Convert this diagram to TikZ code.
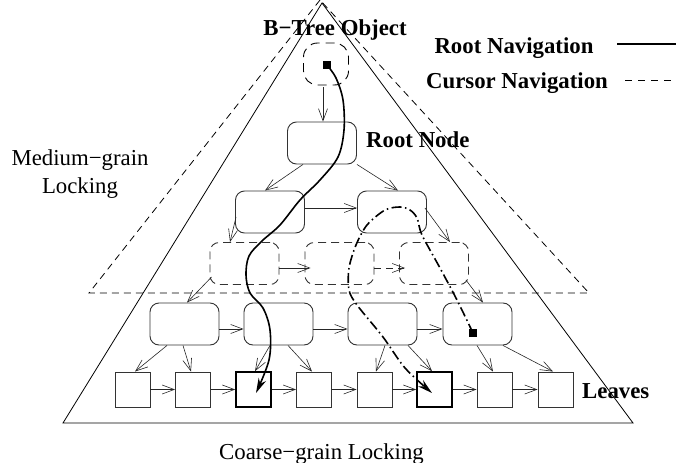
\documentclass[tikz,border=0pt]{standalone}
\usepackage{fontspec}
\setmainfont{Liberation Serif}
\usetikzlibrary{arrows.meta,calc}
\begin{document}
\begin{tikzpicture}[x=1pt,y=-1pt,
  font=\fontsize{22.8}{26}\selectfont,
  tri/.style={line width=0.8pt,black},
  dtri/.style={line width=0.8pt,black,dash pattern=on 7pt off 5pt},
  box/.style={draw=black!80,line width=0.9pt,rounded corners=9pt,minimum width=69pt,minimum height=42pt,inner sep=0pt},
  dbox/.style={box,dash pattern=on 8pt off 5pt},
  objbox/.style={draw=black,line width=0.9pt,rounded corners=14pt,minimum width=45pt,minimum height=42pt,inner sep=0pt,dash pattern=on 9pt off 6pt},
  leaf/.style={draw=black!80,line width=0.9pt,minimum size=35pt,inner sep=0pt},
  bleaf/.style={leaf,draw=black,line width=1.6pt},
  sqr/.style={fill=black,minimum size=8pt,inner sep=0pt},
  arr/.style={draw=black!85,line width=0.6pt,-{Straight Barb[length=12pt,width=9pt]}},
  nav/.style={line width=1.6pt,black,-{Stealth[length=15pt,width=8pt]}},
  cur/.style={nav,dash pattern=on 10pt off 3.5pt on 1.5pt off 3.5pt},
  lbl/.style={inner sep=0pt,font=\fontsize{22.8}{26}\selectfont\bfseries},
  txt/.style={inner sep=0pt}
]
\path[use as bounding box] (0,0) rectangle (699,463);

% triangles
\coordinate (tA) at (322,3);
\coordinate (tL) at (63,423);
\coordinate (tR) at (633,423);
\draw[tri] (tA) -- (tL) -- (tR) -- cycle;
\coordinate (dA) at (320,0);
\coordinate (dL) at (89,293);
\coordinate (dR) at (589,293);
\draw[dtri] (dA) -- (dL) -- (dR) -- cycle;

% nodes
\node[objbox] (obj) at (326,64) {};
\node[sqr] (sq1) at (327,65) {};
\node[box] (root) at (322,143) {};
\node[box] (l2a) at (270,212) {};
\node[box] (l2b) at (392,212) {};
\node[dbox] (d1) at (244.5,263.5) {};
\node[dbox] (d2) at (339.5,263.5) {};
\node[dbox] (d3) at (434,263.5) {};
\node[box] (m1) at (184.5,324) {};
\node[box] (m2) at (278.5,324) {};
\node[box] (m3) at (382.5,324) {};
\node[box] (m4) at (477.5,324) {};
\node[sqr] (sq2) at (473,333) {};
\node[leaf] (c1) at (132.5,389.5) {};
\node[leaf] (c2) at (193,389.5) {};
\node[bleaf] (c3) at (253.5,389.5) {};
\node[leaf] (c4) at (314,389.5) {};
\node[leaf] (c5) at (374.5,389.5) {};
\node[bleaf] (c6) at (434.5,389.5) {};
\node[leaf] (c7) at (494.5,389.5) {};
\node[leaf] (c8) at (555.5,389.5) {};

% labels
\node[lbl,anchor=base] (tobj) at (335,35) {B−Tree Object};
\node[lbl,anchor=base west] (troot) at (366,147) {Root Node};
\node[lbl,anchor=base west] (tleaves) at (582,398) {Leaves};
\node[lbl,anchor=base] (trn) at (514,53) {Root Navigation};
\node[lbl,anchor=base] (tcn) at (517,88) {Cursor Navigation};
\node[txt,anchor=base] (tmg1) at (80,165) {Medium−grain};
\node[txt,anchor=base] (tmg2) at (80,193) {Locking};
\node[txt,anchor=base] (tcg) at (321.5,459) {Coarse−grain Locking};

% legend lines
\coordinate (lg1a) at (617,44);
\coordinate (lg1b) at (676,44);
\coordinate (lg2a) at (625,80);
\coordinate (lg2b) at (673,80);
\draw[line width=1.2pt] (lg1a) -- (lg1b);
\draw[line width=0.8pt,dash pattern=on 7pt off 6pt] (lg2a) -- (lg2b);

% tree arrows
\draw[arr] ($(obj.south)+(-3,2)$) -- ($(root.north)+(1,0)$);
\draw[arr] ($(root.south)+(-19,0)$) -- ($(l2a.north)+(-5,0)$);
\draw[arr] (root.south east) -- ($(l2b.north)+(6,0)$);
\draw[arr] ($(l2a.east)+(0,-4)$) -- ($(l2b.west)+(0,-4)$);
\draw[arr] ($(l2a.west)+(1,5)$) -- ($(d1.north)+(-14.5,0)$);
\draw[arr] ($(l2b.east)+(-2,-4)$) -- ($(d3.north)+(16,0)$);
\draw[arr] ($(d1.east)+(0,4.5)$) -- ($(d2.west)+(6,4.5)$);
\draw[arr,dash pattern=on 7pt off 5pt] ($(d2.east)+(0,4.5)$) -- ($(d3.west)+(6,4.5)$);
\draw[arr] ($(d1.west)+(2,13.5)$) -- ($(m1.north)+(2.5,0)$);
\draw[arr] ($(d3.east)+(-3,16.5)$) -- ($(m4.north)+(5.5,0)$);
\draw[arr] ($(m1.east)+(0,5)$) -- ($(m2.west)+(0,5)$);
\draw[arr] ($(m2.east)+(0,5)$) -- ($(m3.west)+(0,5)$);
\draw[arr] ($(m3.east)+(0,5)$) -- ($(m4.west)+(0,5)$);
\draw[arr] ($(m1.south)+(-17.5,0)$) -- ($(c1.north)+(2.5,0)$);
\draw[arr] ($(m1.south)+(-1.5,0)$) -- ($(c2.north)+(-2,0)$);
\draw[arr] ($(m2.south)+(-8.5,0)$) -- ($(c3.north)+(1.5,0)$);
\draw[arr] ($(m2.south)+(9.5,0)$) -- ($(c4.north)+(-2,0)$);
\draw[arr] ($(m3.south)+(2.5,0)$) -- ($(c5.north)+(1.5,0)$);
\draw[arr] ($(m3.south)+(25.5,0)$) -- ($(c6.north)+(-2.5,0)$);
\draw[arr] ($(m4.south)+(-0.5,0)$) -- ($(c7.north)+(-1.5,0)$);
\draw[arr] ($(m4.south)+(25.5,0)$) -- ($(c8.north)+(-2.5,0)$);
\foreach \a/\b in {c1/c2,c2/c3,c3/c4,c4/c5,c5/c6,c6/c7,c7/c8}
  \draw[arr] (\a.east) -- (\b.west);

% navigation paths
\coordinate (rnEnd) at (256,393);
\draw[nav] plot[smooth,tension=0.55] coordinates {(sq1) (336,78) (343,100) (344,130) (338,157) (320,180) (300,200) (280,225) (262,241) (249,256) (246,275) (250,293) (263,308) (270,330) (269,360) (rnEnd)};
\coordinate (cnEnd) at (432,393);
\draw[cur] plot[smooth,tension=0.5] coordinates {(sq2) (457,300) (440,268) (422,235) (417,218) (410,210) (400,207) (385,210) (367,225) (356,245) (349,268) (349,290) (357,305) (383,337) (405,368) (cnEnd)};
\end{tikzpicture}
\end{document}
